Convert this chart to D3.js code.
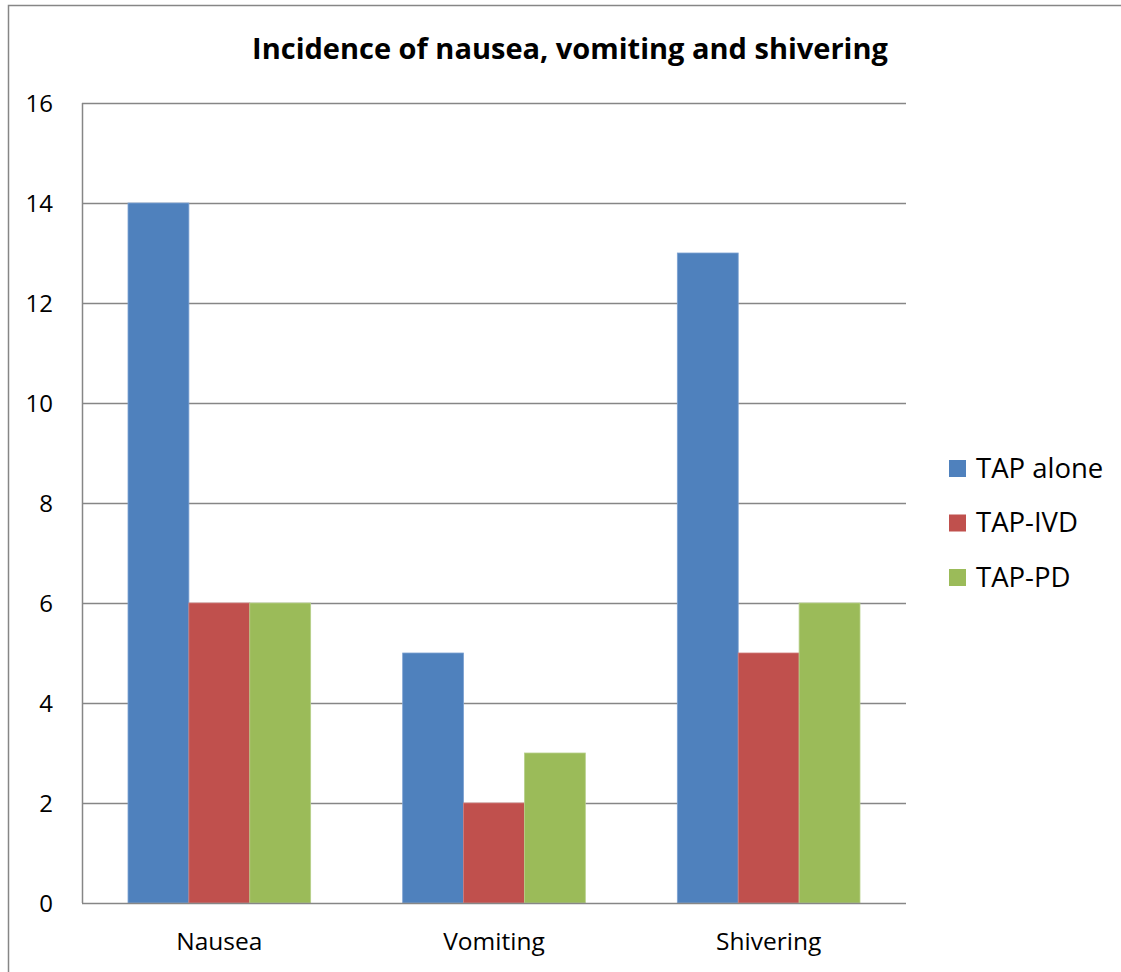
<!DOCTYPE html>
<html>
<head>
<meta charset="utf-8">
<script src="https://cdn.jsdelivr.net/npm/d3@7/dist/d3.min.js"></script>
<style>
  html, body { margin: 0; padding: 0; background: #fff; }
  svg { display: block; font-family: "Open Sans", "Noto Sans", sans-serif; }
</style>
</head>
<body>
<svg id="chart" width="1121" height="972"></svg>
<script>
const categories = ["Nausea", "Vomiting", "Shivering"];
const seriesNames = ["TAP alone", "TAP-IVD", "TAP-PD"];
const tapAlone = [14, 5, 13];
const tapIVD = [6, 2, 5];
const tapPD = [6, 3, 6];
const yTicks = [0, 2, 4, 6, 8, 10, 12, 14, 16];
const colors = ["#4F81BD", "#C0504D", "#9BBB59"];
const strokes = ["#7DA2D2", "#D07C7A", "#B7D08A"];
const title = "Incidence of nausea, vomiting and shivering";

const seriesValues = [tapAlone, tapIVD, tapPD];

const svg = d3.select("#chart");
const plot = { left: 82, right: 906, top: 103, bottom: 903 };

// outer chart frame
svg.append("rect")
  .attr("x", 8.5).attr("y", 5.5)
  .attr("width", 1130).attr("height", 1000)
  .attr("fill", "none").attr("stroke", "#868686").attr("stroke-width", 1.5);

// category slots; each bar cluster leaves a 150% gap between clusters
const x0 = d3.scaleBand().domain(categories).range([plot.left, plot.right]).padding(0);
const groupW = x0.bandwidth() * 0.665;
const x1 = d3.scaleBand().domain(seriesNames).range([0, groupW]).padding(0);
const y = d3.scaleLinear().domain([0, 16]).range([plot.bottom, plot.top]);

// horizontal gridlines
svg.append("g").selectAll("line").data(yTicks.filter(d => d > 0)).join("line")
  .attr("x1", plot.left).attr("x2", plot.right)
  .attr("y1", d => Math.round(y(d)) + 0.5).attr("y2", d => Math.round(y(d)) + 0.5)
  .attr("stroke", "#868686").attr("stroke-width", 1.5);

// bars
const offset = (x0.bandwidth() - groupW) / 2;
const groups = svg.append("g").selectAll("g").data(categories).join("g")
  .attr("transform", c => `translate(${x0(c) + offset},0)`);
groups.selectAll("rect")
  .data((c, i) => seriesNames.map((s, j) => ({ s, j, v: seriesValues[j][i] })))
  .join("rect")
  .attr("x", d => x1(d.s))
  .attr("width", x1.bandwidth())
  .attr("y", d => y(d.v))
  .attr("height", d => y(0) - y(d.v))
  .attr("fill", d => colors[d.j])
  .attr("stroke", d => strokes[d.j])
  .attr("stroke-width", 0.8);

// axis lines
svg.append("line")
  .attr("x1", plot.left + 0.5).attr("x2", plot.left + 0.5)
  .attr("y1", plot.top).attr("y2", plot.bottom)
  .attr("stroke", "#868686").attr("stroke-width", 1.5);
svg.append("line")
  .attr("x1", plot.left).attr("x2", plot.right)
  .attr("y1", plot.bottom + 0.5).attr("y2", plot.bottom + 0.5)
  .attr("stroke", "#868686").attr("stroke-width", 1.5);

// y tick labels
svg.append("g").selectAll("text").data(yTicks).join("text")
  .attr("x", 53).attr("y", d => y(d) + 8.5)
  .attr("text-anchor", "end")
  .attr("font-size", 24).attr("fill", "#000")
  .text(d => d);

// category labels
svg.append("g").selectAll("text").data(categories).join("text")
  .attr("x", c => x0(c) + x0.bandwidth() / 2).attr("y", 950)
  .attr("text-anchor", "middle")
  .attr("font-size", 24.5).attr("fill", "#000")
  .text(c => c);

// title
svg.append("text")
  .attr("x", 570).attr("y", 59)
  .attr("text-anchor", "middle")
  .attr("font-size", 29).attr("font-weight", "bold").attr("fill", "#000")
  .text(title);

// legend
const legend = svg.append("g").selectAll("g").data(seriesNames).join("g")
  .attr("transform", (d, i) => `translate(949,${460 + i * 54.5})`);
legend.append("rect")
  .attr("width", 17).attr("height", 17)
  .attr("fill", (d, i) => colors[i]);
legend.append("text")
  .attr("x", 27).attr("y", 17.5)
  .attr("font-size", 27.5).attr("fill", "#000")
  .text(d => d);
</script>
</body>
</html>
